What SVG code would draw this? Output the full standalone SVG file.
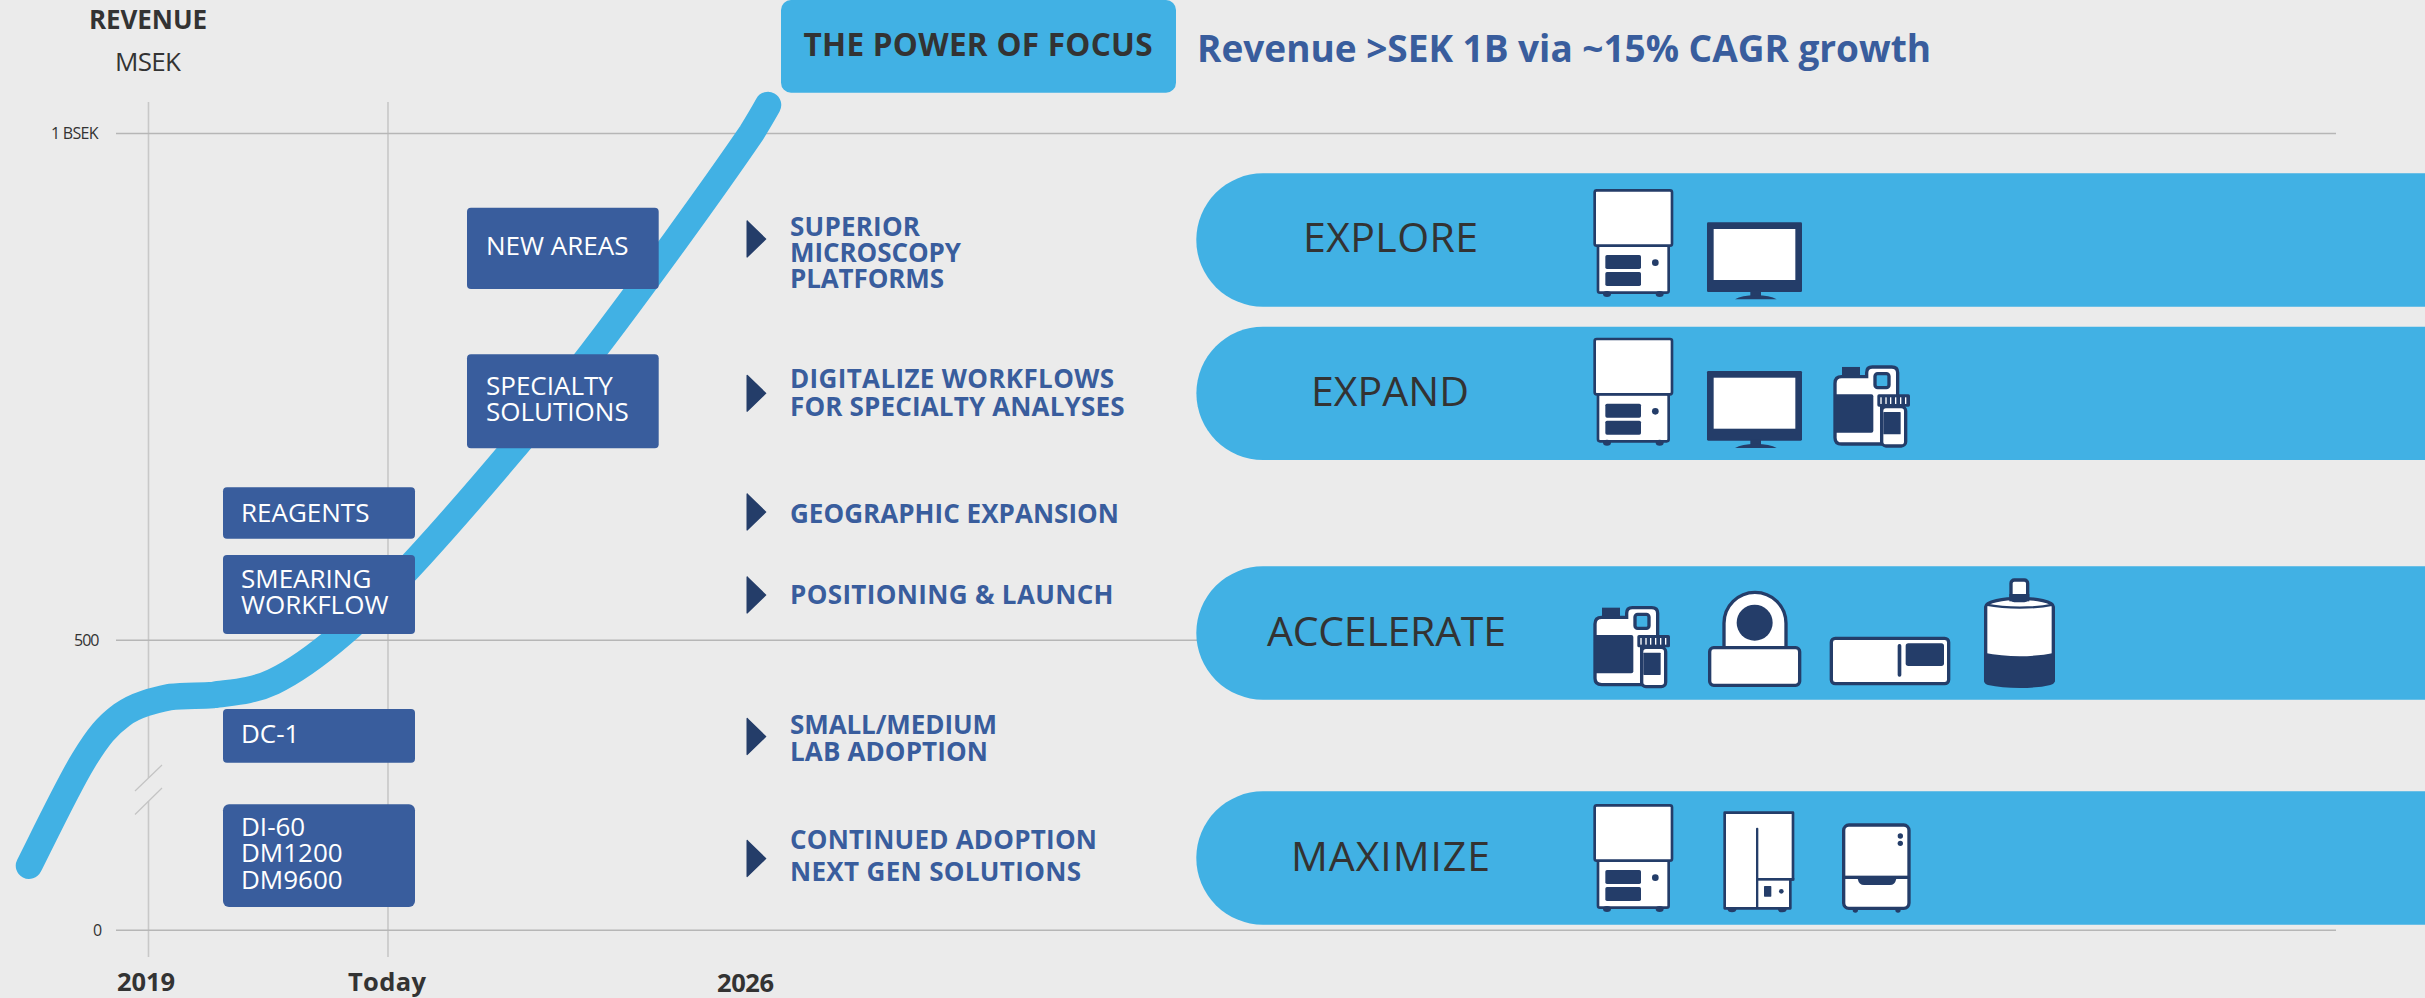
<svg xmlns="http://www.w3.org/2000/svg" width="2425" height="998" viewBox="0 0 2425 998">
<style>
text{font-family:"Open Sans","Noto Sans","Liberation Sans",sans-serif}
.axis{font-size:16px;fill:#333;font-weight:400}
.axb{font-size:25.500px;fill:#333;font-weight:700}
.box{fill:#395D9D}
.bt{font-size:26px;fill:#fff;font-weight:400}
.bl{font-size:26px;fill:#395D9D;font-weight:700}
.pill{fill:#41B1E4}
.pt{font-size:41px;fill:#333;font-weight:400}
.gh{stroke:#B6B6B6;stroke-width:1.600;fill:none}
.gv{stroke:#C8C8C8;stroke-width:1.600;fill:none}
.d{fill:#243D69}
.o{fill:#fff;stroke:#243D69;stroke-width:10}
.o8{fill:#fff;stroke:#243D69;stroke-width:8}
</style>
<defs>
<path id="chev" class="d" d="M746.500 -18 Q747 -19.500 748.500 -17.500 L766.500 0 L748.500 17.500 Q747 19.500 746.500 18 Z"/>
<g id="instrument">
<rect class="o8" x="114" y="226" width="212" height="142" rx="6"/>
<ellipse class="d" cx="141" cy="372" rx="12" ry="9"/>
<ellipse class="d" cx="299" cy="372" rx="12" ry="9"/>
<rect class="o8" x="104" y="61" width="232" height="166" rx="6"/>
<rect class="d" x="136" y="255" width="107" height="42" rx="5"/>
<rect class="d" x="136" y="306" width="107" height="42" rx="5"/>
<circle class="d" cx="286" cy="278" r="10"/>
</g>
<g id="monitor">
<rect class="d" x="441" y="157" width="285" height="209" rx="4"/>
<rect x="461" y="177" width="245" height="153" fill="#fff"/>
<rect class="d" x="571" y="362" width="32" height="18"/>
<path class="d" d="M525 388 Q545 376 587 375 Q630 376 650 388 Z"/>
</g>
<g id="bottle">
<rect class="d" x="126" y="143" width="54" height="28"/>
<path class="o" d="M105 192 Q105 172 125 172 L200 172 L200 160 Q200 143 217 143 L275 143 Q293 143 293 160 L293 240 L245 240 L245 374 L125 374 Q105 374 105 355 Z"/>
<rect x="225" y="163" width="42" height="42" rx="8" fill="#41B1E4" stroke="#243D69" stroke-width="10"/>
<path class="d" d="M105 225 H214 Q220 225 220 231 V334 Q220 340 214 340 H105 Z"/>
<rect class="o" x="245" y="262" width="72" height="118" rx="13"/>
<rect class="d" x="250" y="278" width="52" height="67" rx="2"/>
<rect class="d" x="232" y="225" width="98" height="37" rx="5"/>
<g fill="#fff"><rect x="241" y="234" width="4" height="20"/><rect x="256" y="234" width="4" height="20"/><rect x="270" y="234" width="4" height="20"/><rect x="285" y="234" width="4" height="20"/><rect x="300" y="234" width="4" height="20"/><rect x="315" y="234" width="4" height="20"/></g>
</g>
</defs>
<rect width="2425" height="998" fill="#EBEBEB"/>

<g id="grid">
<path class="gv" d="M148.500 102V778M148.500 801V957M388 102V957"/>
<path class="gh" d="M116 133.500H2336M116 640.300H1300M116 930.300H2336"/>
<path stroke="#C4C4C4" stroke-width="1.200" fill="none" d="M135 791L162 765M135 814.500L162 788"/>
</g>

<g id="connectors">
<path id="growth-curve" fill="none" stroke="#41B1E4" stroke-width="26.500" stroke-linecap="round" d="M29 865.700C38 848.200 67.900 785.800 83.300 760.700C98.700 735.600 107.300 725.600 121.700 715C136.100 704.400 154.700 700.300 170 697C185 695.500 198 696 213.300 695C230.500 692.400 251.900 691.900 273.300 681.700C294.700 671.500 317.300 655.200 342 634C366.700 612.800 392.300 586 421 554.700C449.700 523.400 485.700 481.500 514 448C542.300 414.500 564.200 388.700 591 354C617.800 319.300 647.700 278.500 674.500 241.700C701.200 204.900 735.900 155.800 751.500 133C757 124 763 114 768 105"/>
</g>

<g id="axis-labels">
<text x="89" y="28.500" font-size="26" font-weight="700" fill="#333" textLength="118">REVENUE</text>
<text x="115" y="70.700" font-size="26" font-weight="400" fill="#333" textLength="66">MSEK</text>
<text class="axis" x="51" y="139" textLength="47.500">1 BSEK</text>
<text class="axis" x="74" y="646" textLength="25.500">500</text>
<text class="axis" x="93" y="936">0</text>
<text class="axb" x="117" y="990.700" textLength="58">2019</text>
<text class="axb" x="348" y="990.700" textLength="78">Today</text>
<text class="axb" x="717" y="992" textLength="57">2026</text>
</g>

<g id="title">
<rect class="pill" x="781" y="0" width="395" height="92.700" rx="10"/>
<text x="803.500" y="56" font-size="31.500" font-weight="700" fill="#333" textLength="349">THE POWER OF FOCUS</text>
<text x="1197" y="62" font-size="37" font-weight="700" fill="#395D9D" textLength="734">Revenue &gt;SEK 1B via ~15% CAGR growth</text>
</g>

<g id="node-new-areas"><rect class="box" x="467" y="207.700" width="191.700" height="81.300" rx="4"/><text class="bt" x="486" y="255">NEW AREAS</text></g>
<g id="node-specialty"><rect class="box" x="467" y="354.300" width="191.700" height="94" rx="4"/><text class="bt" x="486" y="395">SPECIALTY</text><text class="bt" x="486" y="421">SOLUTIONS</text></g>
<g id="node-reagents"><rect class="box" x="223" y="487.300" width="192" height="51.400" rx="4"/><text class="bt" x="241" y="522">REAGENTS</text></g>
<g id="node-smearing"><rect class="box" x="223" y="555" width="192" height="79" rx="4"/><text class="bt" x="241" y="588">SMEARING</text><text class="bt" x="241" y="613.700">WORKFLOW</text></g>
<g id="node-dc1"><rect class="box" x="223" y="709" width="192" height="53.700" rx="4"/><text class="bt" x="241" y="743">DC-1</text></g>
<g id="node-di60"><rect class="box" x="223" y="804.300" width="192" height="102.700" rx="6"/><text class="bt" x="241" y="835.700">DI-60</text><text class="bt" x="241" y="862.300">DM1200</text><text class="bt" x="241" y="889">DM9600</text></g>

<g id="bullet-superior"><use href="#chev" y="239"/><text class="bl" x="790" y="235.700" textLength="130">SUPERIOR</text><text class="bl" x="790" y="261.700" textLength="171">MICROSCOPY</text><text class="bl" x="790" y="288.300" textLength="154">PLATFORMS</text></g>
<g id="bullet-digitalize"><use href="#chev" y="393.300"/><text class="bl" x="790" y="388.300" textLength="324">DIGITALIZE WORKFLOWS</text><text class="bl" x="790" y="415.700" textLength="334.500">FOR SPECIALTY ANALYSES</text></g>
<g id="bullet-geographic"><use href="#chev" y="512"/><text class="bl" x="790" y="523" textLength="329">GEOGRAPHIC EXPANSION</text></g>
<g id="bullet-positioning"><use href="#chev" y="595"/><text class="bl" x="790" y="603.700" textLength="323.500">POSITIONING &amp; LAUNCH</text></g>
<g id="bullet-small"><use href="#chev" y="736.500"/><text class="bl" x="790" y="733.700" textLength="207">SMALL/MEDIUM</text><text class="bl" x="790" y="760.700" textLength="198">LAB ADOPTION</text></g>
<g id="bullet-continued"><use href="#chev" y="858.500"/><text class="bl" x="790" y="848.700" textLength="307">CONTINUED ADOPTION</text><text class="bl" x="790" y="880.700" textLength="291">NEXT GEN SOLUTIONS</text></g>

<g id="node-explore">
<path class="pill" d="M2425 173.300H1263A66.700 66.700 0 0 0 1263 306.700H2425Z"/>
<text class="pt" x="1303" y="252.300" textLength="175">EXPLORE</text>
<use href="#instrument" transform="translate(1560 170) scale(.33333)"/>
<use href="#monitor" transform="translate(1560 170) scale(.33333)"/>
</g>
<g id="node-expand">
<path class="pill" d="M2425 326.700H1263A66.650 66.650 0 0 0 1263 460H2425Z"/>
<text class="pt" x="1311" y="406" textLength="158">EXPAND</text>
<use href="#instrument" transform="translate(1560 318.700) scale(.33333)"/>
<use href="#monitor" transform="translate(1560 318.700) scale(.33333)"/>
<use href="#bottle" transform="translate(1800 319.300) scale(.33333)"/>
</g>
<g id="node-accelerate">
<path class="pill" d="M2425 566.300H1263A66.700 66.700 0 0 0 1263 699.700H2425Z"/>
<text class="pt" x="1267" y="645.700" textLength="239">ACCELERATE</text>
<use href="#bottle" transform="translate(1560 560) scale(.33333)"/>
<g transform="translate(1560 560) scale(.33333)">
<path class="o" d="M492 265V190A93 93 0 0 1 678 190V265Z"/>
<circle class="d" cx="584" cy="188" r="54"/>
<rect class="o" x="449" y="263" width="270" height="113" rx="12"/>
<rect class="o" x="814" y="235" width="352" height="136" rx="12"/>
<rect class="d" x="1013" y="252" width="11" height="98" rx="5"/>
<rect class="d" x="1037" y="250" width="115" height="68" rx="8"/>
<path class="o" d="M1277 140C1277 125 1330 115 1378 115C1430 115 1480 125 1480 140V360Q1480 368 1470 370C1420 382 1340 382 1285 370Q1277 368 1277 360Z"/>
<path class="d" d="M1272 278C1340 292 1420 292 1485 278V360Q1485 370 1470 372C1420 384 1340 384 1285 372Q1272 370 1272 360Z"/>
<path fill="none" stroke="#243D69" stroke-width="7" d="M1278 134C1340 146 1420 146 1480 134"/>
<rect class="o" x="1353" y="60" width="50" height="62" rx="10"/>
<rect class="d" x="1348" y="102" width="60" height="22"/>
</g>
</g>
<g id="node-maximize">
<path class="pill" d="M2425 791.300H1263A66.700 66.700 0 0 0 1263 924.700H2425Z"/>
<text class="pt" x="1291" y="870.700" textLength="199">MAXIMIZE</text>
<use href="#instrument" transform="translate(1560 785) scale(.33333)"/>
<g transform="translate(1560 790) scale(.33333)">
<ellipse class="d" cx="516" cy="358" rx="13" ry="9"/>
<ellipse class="d" cx="667" cy="358" rx="13" ry="9"/>
<path class="o8" stroke-linejoin="round" d="M494 68H699V268H691V355H494Z"/>
<rect class="d" x="588" y="113" width="7" height="242" rx="3"/>
<rect class="d" x="588" y="264" width="115" height="8"/>
<rect class="d" x="612" y="288" width="22" height="32" rx="2"/>
<circle class="d" cx="664" cy="304" r="7"/>
<ellipse class="d" cx="886" cy="360" rx="8" ry="8"/>
<ellipse class="d" cx="1014" cy="360" rx="8" ry="8"/>
<rect class="o" x="851" y="105" width="196" height="250" rx="16"/>
<rect class="d" x="851" y="257" width="196" height="10"/>
<path class="d" d="M893 266H1009Q1005 285 990 285H912Q897 285 893 266Z"/>
<circle class="d" cx="1021" cy="138" r="8"/>
<circle class="d" cx="1021" cy="160" r="8"/>
</g>
</g>
</svg>
